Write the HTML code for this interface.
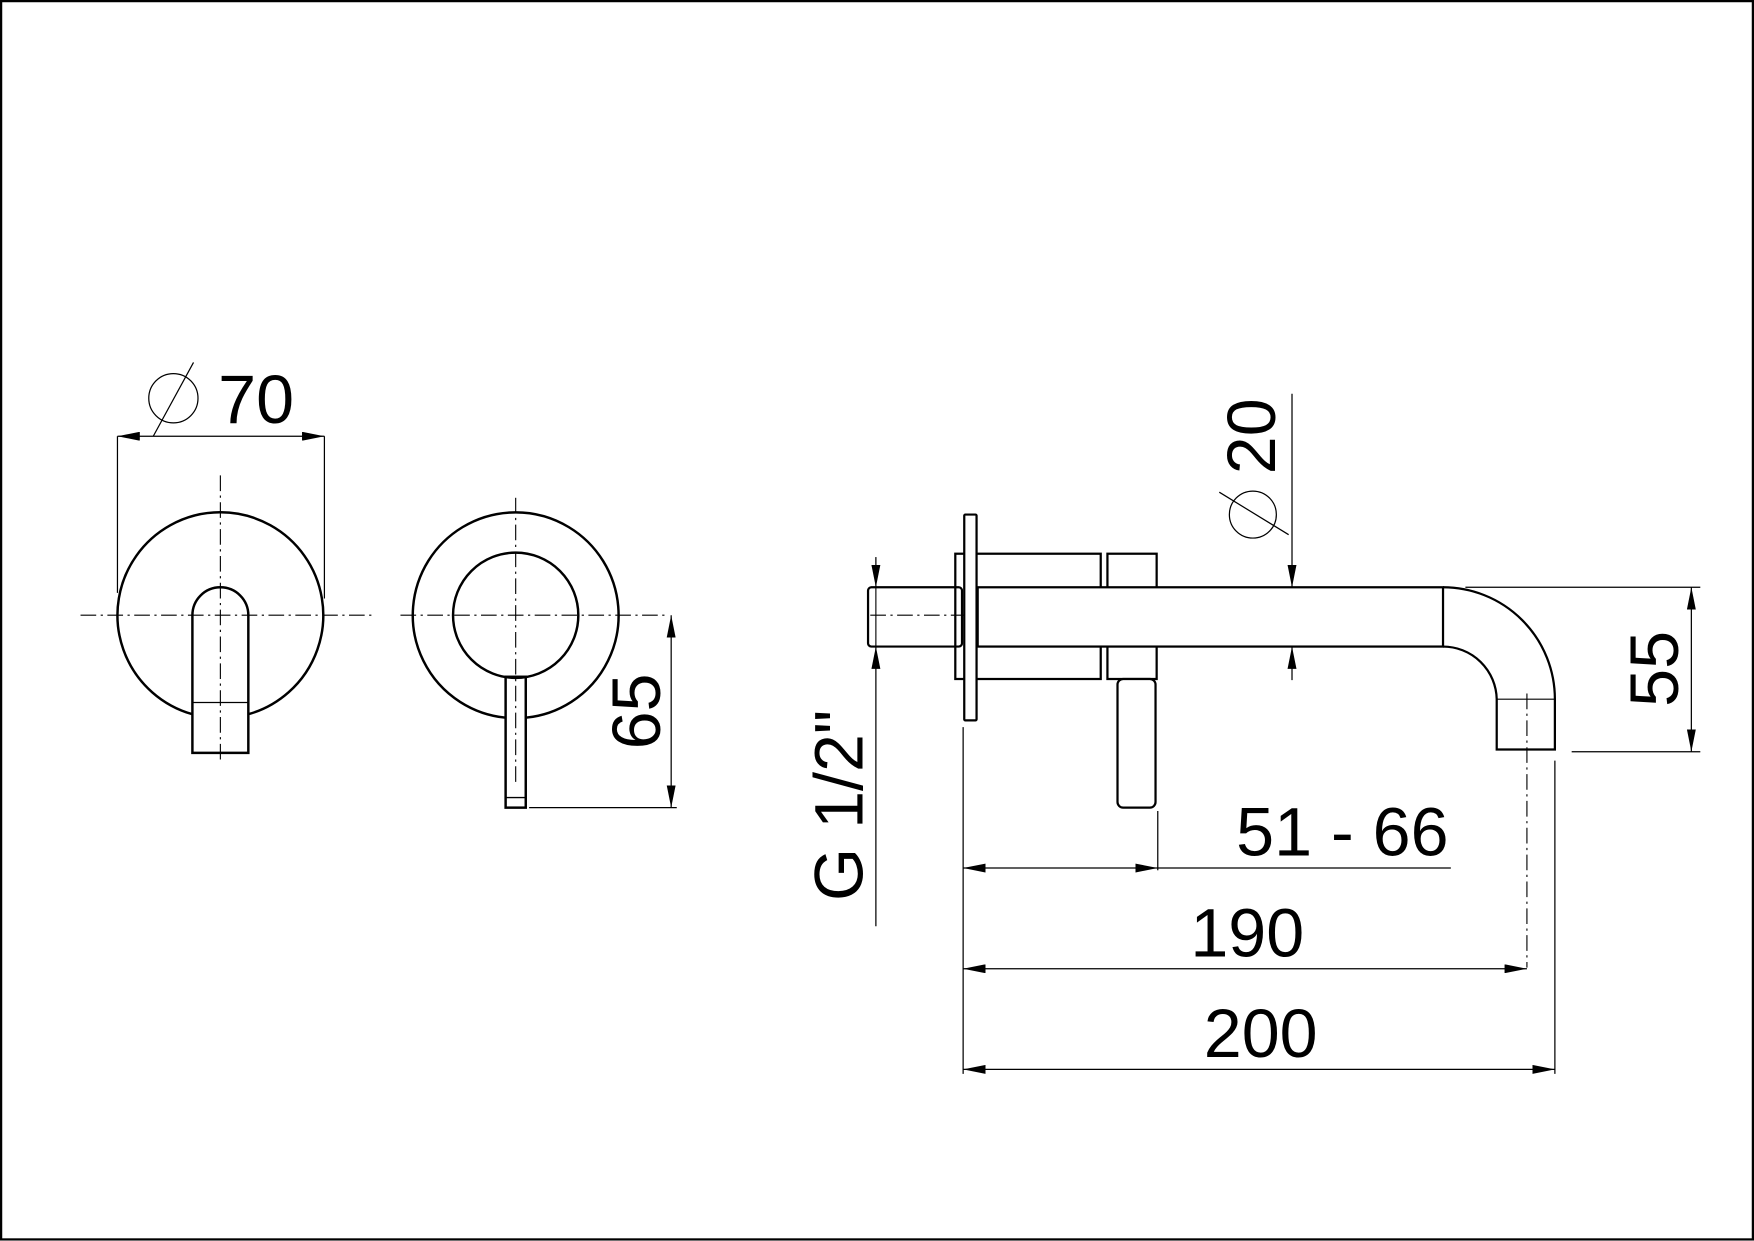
<!DOCTYPE html>
<html><head><meta charset="utf-8"><style>
html,body{margin:0;padding:0;background:#fff;}
svg{display:block;}
text{font-family:"Liberation Sans",Arial,sans-serif;font-size:61px;fill:#000;}
</style></head><body>
<svg width="1754" height="1241" viewBox="0 0 1568 1109.4" preserveAspectRatio="none" xmlns="http://www.w3.org/2000/svg">
<defs>
<marker id="a" viewBox="0 0 20 8" refX="20" refY="4" markerWidth="20" markerHeight="8" markerUnits="userSpaceOnUse" orient="auto-start-reverse"><path d="M0,0 L20,4 L0,8 Z" fill="#000"/></marker>
</defs>
<rect x="1" y="1" width="1566" height="1107" fill="none" stroke="#000" stroke-width="2"/>
<g fill="none" stroke="#000">
<g stroke-width="1" stroke-dasharray="14,4,2,4">
<line x1="72" y1="550" x2="335" y2="550"/><line x1="197" y1="425" x2="197" y2="683"/>
<line x1="358" y1="550" x2="598" y2="550"/><line x1="461" y1="445" x2="461" y2="700"/>
<line x1="778" y1="550" x2="872" y2="550"/>
<line x1="1365" y1="620" x2="1365" y2="865"/>
</g>
<g stroke-width="2.2">
<path d="M172,638.5 A92,92 0 1 1 222,638.5"/>
<path d="M172,673 L172,550 A25,25 0 0 1 222,550 L222,673 Z"/>
</g>
<line x1="172" y1="628" x2="222" y2="628" stroke-width="1.2"/>
<g stroke-width="2.2">
<path d="M452,641.6 A92,92 0 1 1 470,641.6"/>
<circle cx="461" cy="550" r="56"/>
<rect x="452" y="605" width="18" height="117"/>
</g>
<line x1="452" y1="713" x2="470" y2="713" stroke-width="1.2"/>
<g stroke-width="2">
<rect x="776" y="525" width="84" height="53" rx="3"/>
<rect x="854" y="495" width="130" height="112"/>
<rect x="990" y="495" width="44" height="112"/>
<rect x="999" y="607" width="34" height="115" rx="5" fill="#fff"/>
<rect x="874" y="525" width="416" height="53" fill="#fff"/>
<rect x="862" y="460" width="11" height="184" rx="1" fill="#fff"/>
<path d="M1290,525 A100,100 0 0 1 1390,625 L1390,670 L1338,670 L1338,625 A48,48 0 0 0 1290,578"/>
</g>
<line x1="1290" y1="525" x2="1290" y2="578" stroke-width="1"/>
<line x1="1338" y1="625" x2="1390" y2="625" stroke-width="1"/>
<line x1="783" y1="525" x2="783" y2="578" stroke-width="1"/>
<g stroke-width="1.1">
<line x1="105" y1="390" x2="105" y2="530"/><line x1="290" y1="390" x2="290" y2="535"/>
<line x1="105" y1="390" x2="290" y2="390" marker-start="url(#a)" marker-end="url(#a)"/>
<circle cx="155" cy="356" r="22"/><line x1="137" y1="390" x2="173" y2="324"/>
<line x1="473" y1="722" x2="605" y2="722"/>
<line x1="600" y1="550" x2="600" y2="722" marker-start="url(#a)" marker-end="url(#a)"/>
<line x1="783" y1="498" x2="783" y2="525" marker-end="url(#a)"/>
<line x1="783" y1="828" x2="783" y2="578" marker-end="url(#a)"/>
<line x1="1155" y1="352" x2="1155" y2="525" marker-end="url(#a)"/>
<line x1="1155" y1="608" x2="1155" y2="578" marker-end="url(#a)"/>
<circle cx="1120" cy="460" r="21"/><line x1="1090" y1="440" x2="1152" y2="478"/>
<line x1="1310" y1="525" x2="1520" y2="525"/><line x1="1405" y1="672" x2="1520" y2="672"/>
<line x1="1512" y1="525" x2="1512" y2="672" marker-start="url(#a)" marker-end="url(#a)"/>
<line x1="861" y1="650" x2="861" y2="960"/>
<line x1="1035" y1="725" x2="1035" y2="778"/>
<line x1="1390" y1="680" x2="1390" y2="960"/>
<line x1="861" y1="776" x2="1035" y2="776" marker-start="url(#a)" marker-end="url(#a)"/>
<line x1="1035" y1="776" x2="1297" y2="776"/>
<line x1="861" y1="866" x2="1365" y2="866" marker-start="url(#a)" marker-end="url(#a)"/>
<line x1="861" y1="956" x2="1390" y2="956" marker-start="url(#a)" marker-end="url(#a)"/>
</g>
</g>
<text x="195" y="378">70</text>
<text transform="translate(590,636) rotate(-90)" text-anchor="middle">65</text>
<text transform="translate(771,720) rotate(-90)" text-anchor="middle">G 1/2"</text>
<text transform="translate(1140,390) rotate(-90)" text-anchor="middle">20</text>
<text transform="translate(1500,598) rotate(-90)" text-anchor="middle">55</text>
<text x="1200" y="765" text-anchor="middle">51 - 66</text>
<text x="1115" y="855" text-anchor="middle">190</text>
<text x="1127" y="945" text-anchor="middle">200</text>
</svg>
</body></html>
